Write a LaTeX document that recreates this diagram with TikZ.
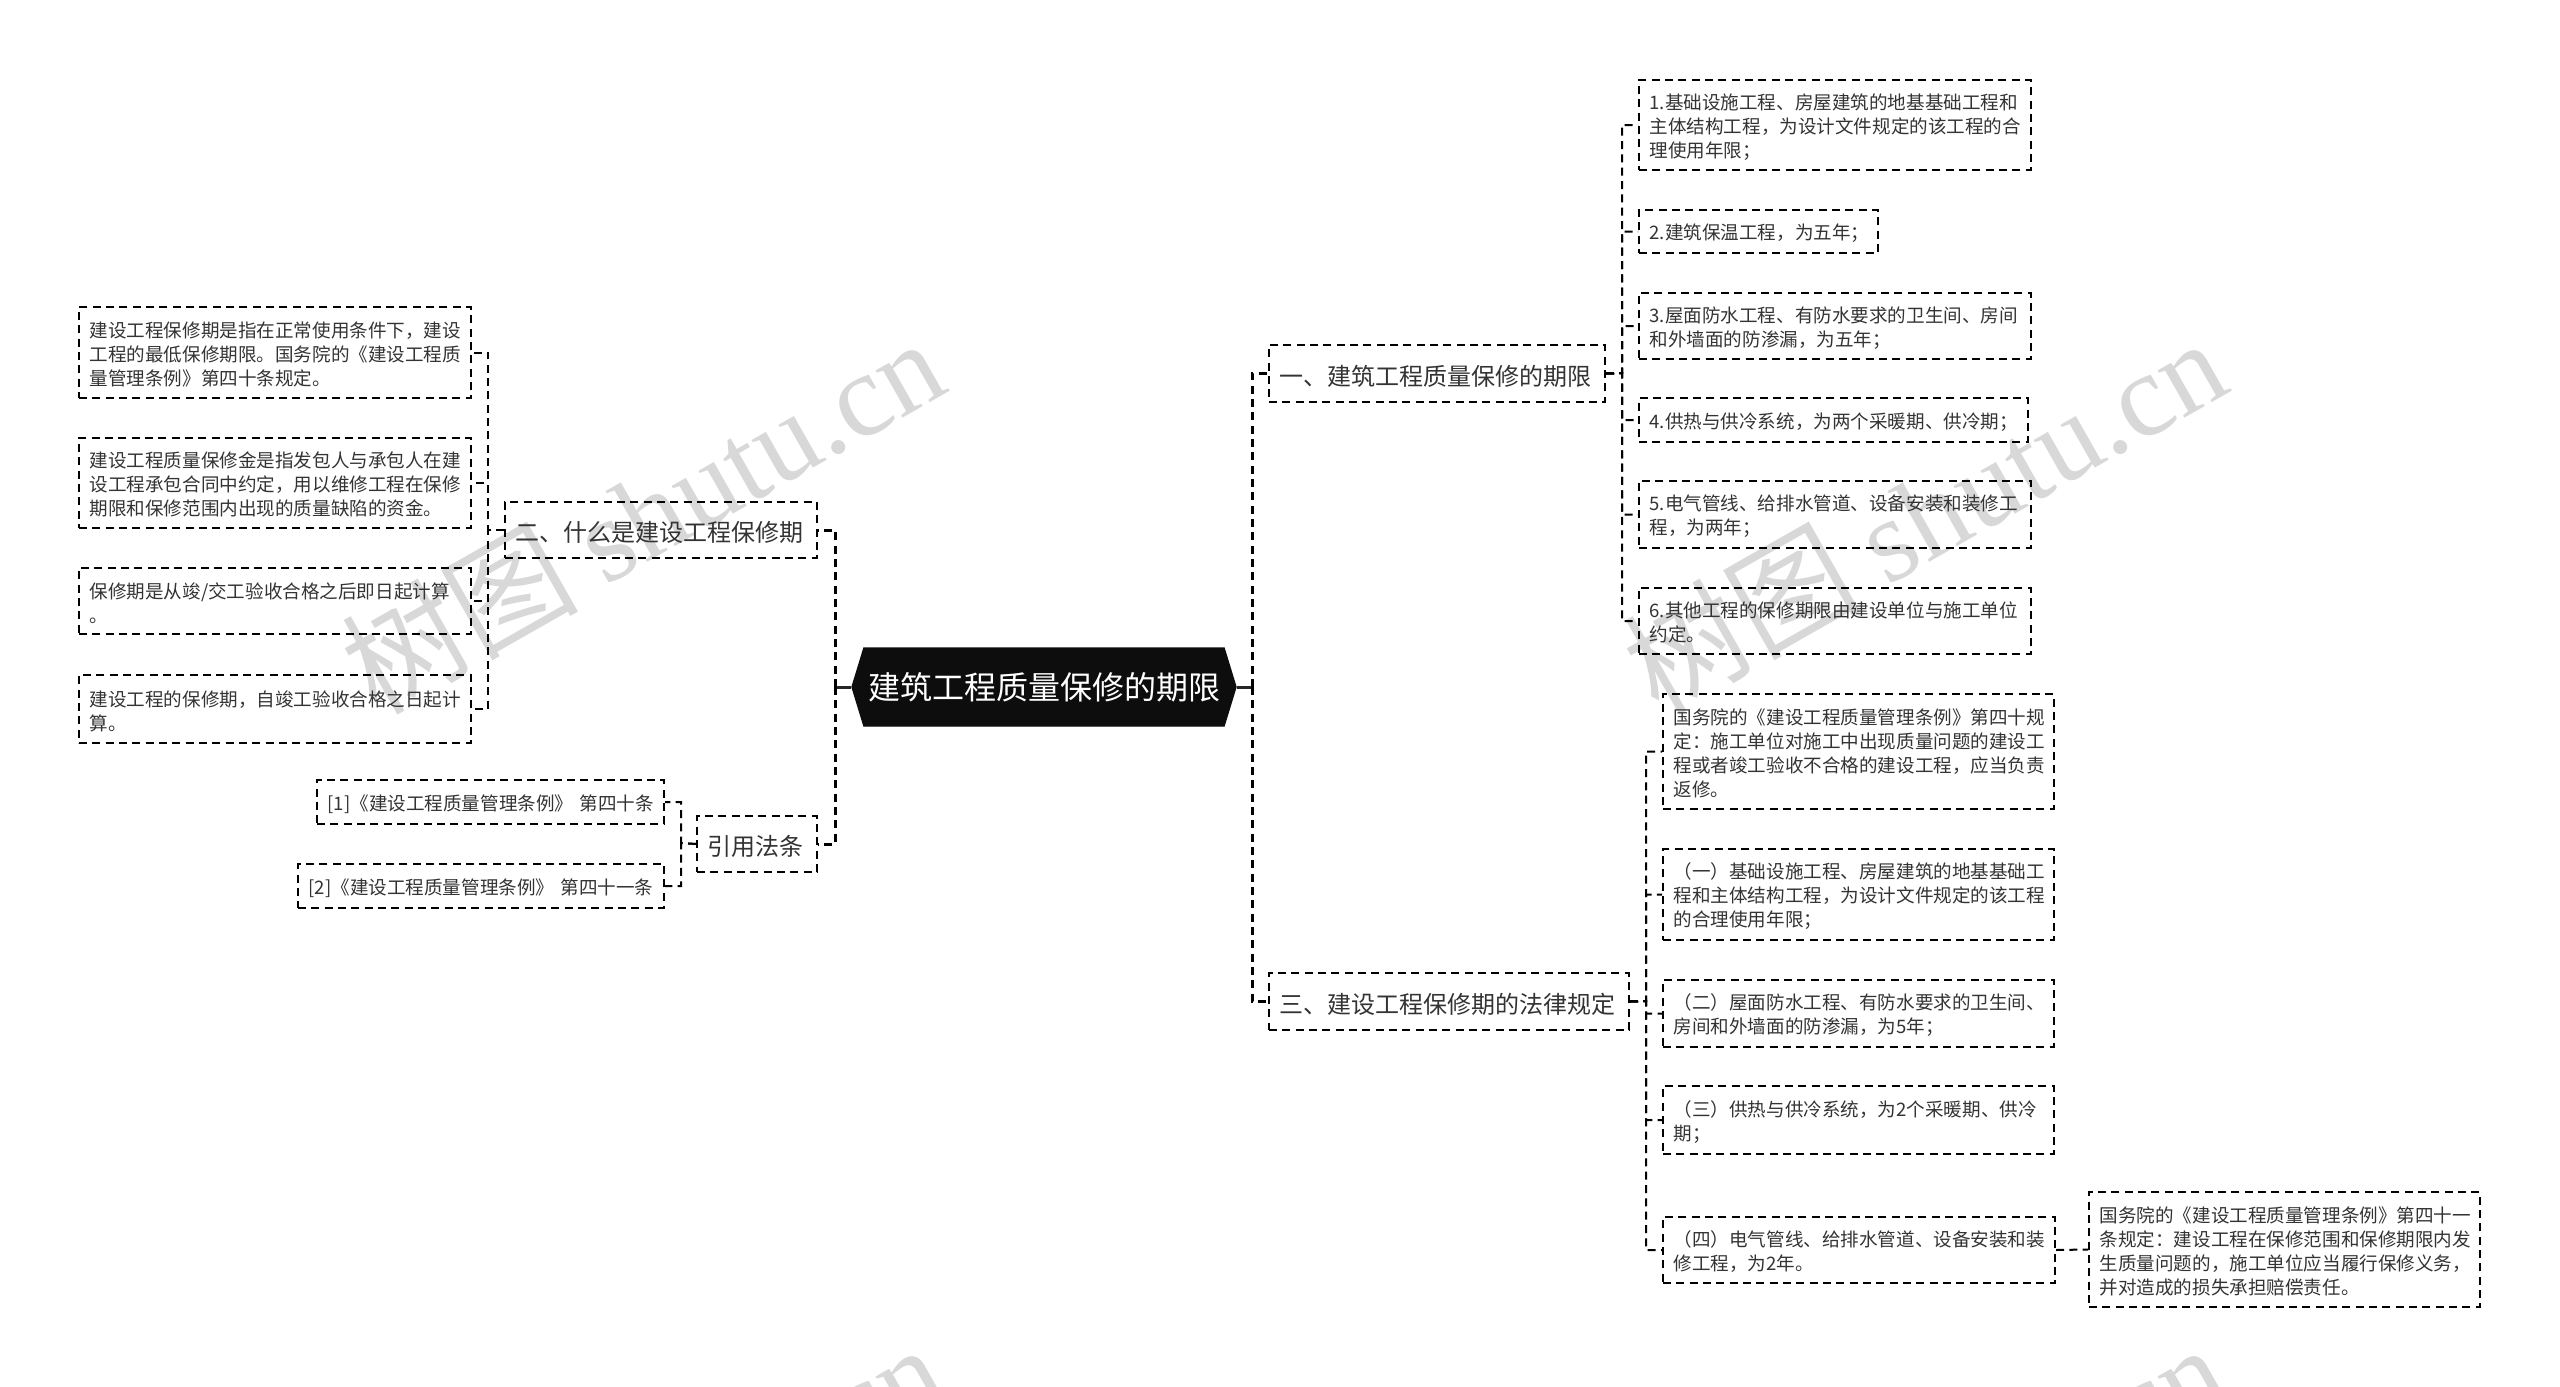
\documentclass[tikz,border=0pt]{standalone}
\usepackage{fontspec}
\setmainfont{Noto Sans CJK SC}
\newfontfamily\wmcjk{Noto Sans CJK SC}[Scale=1]
\newfontfamily\wmlat{Liberation Serif}
\usetikzlibrary{shapes.symbols}
\definecolor{inkc}{HTML}{333333}
\definecolor{wmc}{HTML}{D8D8D8}
\definecolor{rootc}{HTML}{0D0D0D}
\tikzset{
  box/.style={draw=black,line width=0.6pt,dash pattern=on 2.4pt off 1.6pt,text=inkc,align=left,inner xsep=3.2pt,inner ysep=0pt},
  leaf/.style={box,font=\fontsize{5.57}{7.2}\selectfont},
  topic/.style={box,font=\fontsize{7.2}{9}\selectfont},
  conn/.style={draw=black,line width=0.6pt,dash pattern=on 2.4pt off 1.6pt},
  trunk/.style={draw=black,line width=0.9pt,dash pattern=on 2.4pt off 1.6pt},
  rootlink/.style={draw=black!85,line width=0.9pt},
  rootbox/.style={signal,signal to=west and east,signal pointer angle=146,fill=rootc,draw=rootc,text=white,inner sep=0pt,font=\fontsize{9.6}{11}\selectfont},
  wmark/.style={text=wmc,rotate=29.6,inner sep=0pt,font=\fontsize{35.5}{38}\selectfont},
}
\newcommand{\bx}[7]{\node[#6,minimum width={(#4-#2)*0.3pt},minimum height={(#5-#3)*0.3pt},text width={(#4-#2)*0.3pt-6.4pt}] (#1) at ({(#2+#4)/2},{(#3+#5)/2}) {\rule{0pt}{1.05em}#7};}
\newcommand{\wmtext}{{\wmcjk 树图} {\wmlat shutu.cn}}
\begin{document}
\begin{tikzpicture}[x=0.3pt,y=-0.3pt]
\useasboundingbox (0,0) rectangle (2560,1387);
\begin{scope}
\clip (0,0) rectangle (2560,1387);
\node[wmark] (wa) at (642,514) {\wmtext};
\node[wmark] (wb) at (1924,514) {\wmtext};
\node[wmark] (wc) at (642,1520) {\wmtext};
\node[wmark] (wd) at (1924,1520) {\wmtext};
\end{scope}
% root
\node[rootbox,minimum width=115.2pt,minimum height=23.4pt] (root) at (1044,687) {建筑工程质量保修的期限};
% topics
\bx{t1}{1269}{345}{1605}{402}{topic}{一、建筑工程质量保修的期限}
\bx{t3}{1269}{973}{1629}{1030}{topic}{三、建设工程保修期的法律规定}
\bx{t2}{505}{502}{817}{558}{topic}{二、什么是建设工程保修期}
\bx{t4}{697}{816}{817}{872}{topic}{引用法条}
% right 1
\bx{b1}{1639}{80}{2031}{170}{leaf}{1.基础设施工程、房屋建筑的地基基础工程和\\主体结构工程，为设计文件规定的该工程的合\\理使用年限；}
\bx{b2}{1639}{210}{1878}{253}{leaf}{2.建筑保温工程，为五年；}
\bx{b3}{1639}{293}{2031}{359}{leaf}{3.屋面防水工程、有防水要求的卫生间、房间\\和外墙面的防渗漏，为五年；}
\bx{b4}{1639}{398}{2028}{442}{leaf}{4.供热与供冷系统，为两个采暖期、供冷期；}
\bx{b5}{1639}{481}{2031}{548}{leaf}{5.电气管线、给排水管道、设备安装和装修工\\程，为两年；}
\bx{b6}{1639}{588}{2031}{654}{leaf}{6.其他工程的保修期限由建设单位与施工单位\\约定。}
% right 3
\bx{c1}{1663}{694}{2054}{809}{leaf}{国务院的《建设工程质量管理条例》第四十规\\定：施工单位对施工中出现质量问题的建设工\\程或者竣工验收不合格的建设工程，应当负责\\返修。}
\bx{c2}{1663}{849}{2054}{940}{leaf}{（一）基础设施工程、房屋建筑的地基基础工\\程和主体结构工程，为设计文件规定的该工程\\的合理使用年限；}
\bx{c3}{1663}{980}{2054}{1047}{leaf}{（二）屋面防水工程、有防水要求的卫生间、\\房间和外墙面的防渗漏，为5年；}
\bx{c4}{1663}{1086}{2054}{1154}{leaf}{（三）供热与供冷系统，为2个采暖期、供冷\\期；}
\bx{c5}{1663}{1217}{2055}{1283}{leaf}{（四）电气管线、给排水管道、设备安装和装\\修工程，为2年。}
\bx{d1}{2089}{1192}{2480}{1307}{leaf}{国务院的《建设工程质量管理条例》第四十一\\条规定：建设工程在保修范围和保修期限内发\\生质量问题的，施工单位应当履行保修义务，\\并对造成的损失承担赔偿责任。}
% left
\bx{a1}{79}{307}{471}{398}{leaf}{建设工程保修期是指在正常使用条件下，建设\\工程的最低保修期限。国务院的《建设工程质\\量管理条例》第四十条规定。}
\bx{a2}{79}{438}{471}{528}{leaf}{建设工程质量保修金是指发包人与承包人在建\\设工程承包合同中约定，用以维修工程在保修\\期限和保修范围内出现的质量缺陷的资金。}
\bx{a3}{79}{568}{471}{634}{leaf}{保修期是从竣/交工验收合格之后即日起计算\\。}
\bx{a4}{79}{675}{471}{743}{leaf}{建设工程的保修期，自竣工验收合格之日起计\\算。}
\bx{r1}{317}{780}{664}{824}{leaf}{\mbox{[1]《建设工程质量管理条例》 第四十条}}
\bx{r2}{298}{864}{664}{908}{leaf}{\mbox{[2]《建设工程质量管理条例》 第四十一条}}
% root trunks
\coordinate (rs) at (1252,687);
\coordinate (ls) at (835,687);
\draw[rootlink] (root.east) -- (rs);
\draw[rootlink] (root.west) -- (ls);
\draw[trunk] (rs) |- (t1.west);
\draw[trunk] (rs) |- (t3.west);
\draw[trunk] (ls) |- (t2.east);
\draw[trunk] (ls) |- (t4.east);
% right 1 connectors
\foreach \n in {b1,b2,b3,b4,b5,b6} {\draw[conn] (t1.east) -- (1622,373) |- (\n.west);}
% right 3 connectors
\foreach \n in {c1,c2,c3,c4,c5} {\draw[conn] (t3.east) -- (1646,1001) |- (\n.west);}
\draw[conn] (c5.east) -- (d1.west);
% left connectors
\foreach \n in {a1,a2,a3,a4} {\draw[conn] (t2.west) -- (488,530) |- (\n.east);}
\foreach \n in {r1,r2} {\draw[conn] (t4.west) -- (681,843) |- (\n.east);}
\end{tikzpicture}
\end{document}
